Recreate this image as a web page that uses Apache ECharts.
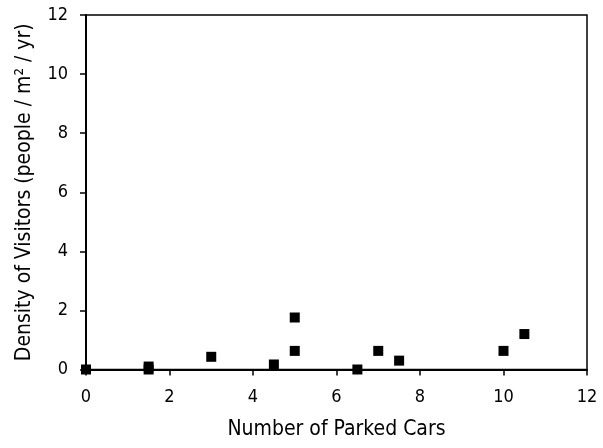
<!DOCTYPE html>
<html>
<head>
<meta charset="utf-8">
<script src="https://cdn.jsdelivr.net/npm/echarts@6/dist/echarts.min.js"></script>
<style>
  html, body { margin: 0; padding: 0; background: #fff; }
  #chart { width: 603px; height: 448px; }
</style>
</head>
<body>
<div id="chart"></div>
<script>
// Parked cars vs. visitor density observations
const parkedCars = [0, 1.5, 1.5, 3, 4.5, 5, 5, 6.5, 7, 7.5, 10, 10.5];
const visitorDensity = [0, 0.1, 0, 0.43, 0.17, 1.76, 0.63, 0, 0.63, 0.3, 0.63, 1.2];
const xTicks = [0, 2, 4, 6, 8, 10, 12];
const yTicks = [0, 2, 4, 6, 8, 10, 12];

const points = parkedCars.map((x, i) => [x, visitorDensity[i]]);
const font = '"DejaVu Sans Condensed", "DejaVu Sans", Verdana, sans-serif';

const chart = echarts.init(document.getElementById('chart'), null, { renderer: 'canvas' });
chart.setOption({
  animation: false,
  backgroundColor: '#ffffff',
  grid: {
    left: 86, right: 16, top: 15, bottom: 78.5,
    show: true, borderColor: '#000', borderWidth: 1.5, backgroundColor: 'transparent'
  },
  xAxis: {
    type: 'value',
    min: xTicks[0], max: xTicks[xTicks.length - 1], interval: 2,
    name: 'Number of Parked Cars',
    nameLocation: 'middle', nameGap: 50,
    nameTextStyle: { fontFamily: font, fontSize: 21, color: '#000' },
    axisLine: { onZero: false, lineStyle: { color: '#000', width: 2 } },
    axisTick: { show: true, inside: false, length: 6, lineStyle: { color: '#000', width: 1.5 } },
    axisLabel: { fontFamily: font, fontSize: 18, color: '#000', margin: 19 },
    splitLine: { show: false }
  },
  yAxis: {
    type: 'value',
    min: yTicks[0], max: yTicks[yTicks.length - 1], interval: 2,
    name: 'Density of Visitors (people / m\u00b2 / yr)',
    nameLocation: 'middle', nameGap: 51, nameRotate: 90,
    nameTextStyle: { fontFamily: font, fontSize: 21, color: '#000' },
    axisLine: { onZero: false, lineStyle: { color: '#000', width: 2 } },
    axisTick: { show: true, inside: false, length: 6, lineStyle: { color: '#000', width: 1.5 } },
    axisLabel: { fontFamily: font, fontSize: 18, color: '#000', margin: 18 },
    splitLine: { show: false }
  },
  series: [{
    type: 'scatter',
    data: points,
    symbol: 'rect',
    symbolSize: 10,
    itemStyle: { color: '#000', opacity: 1 },
    clip: false
  }]
});
</script>
</body>
</html>
